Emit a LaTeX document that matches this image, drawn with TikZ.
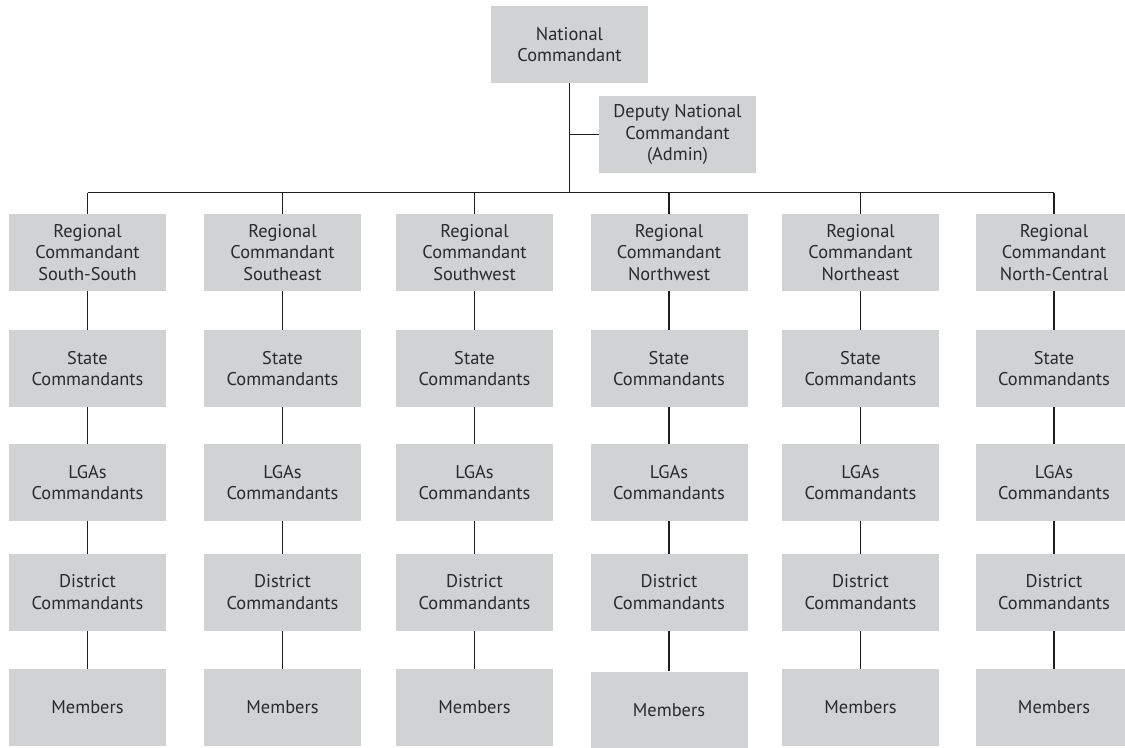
\documentclass[tikz,border=0pt]{standalone}
\usepackage{fontspec}
\setmainfont{PT Sans}
\definecolor{boxgray}{HTML}{D1D2D4}
\definecolor{txtgray}{HTML}{2A2A2A}
\definecolor{linegray}{HTML}{1E1E1E}
\begin{document}
\begin{tikzpicture}[x=0.75pt,y=-0.75pt,
  box/.style={fill=boxgray, draw=none, minimum width=117.75pt, minimum height=57.5pt,
    inner sep=0pt, align=center, text=txtgray, font=\fontsize{13.8}{16.4}\selectfont},
  conn/.style={draw=linegray, line width=0.9pt}]
\useasboundingbox (0,0) rectangle (1125,747);
\clip (0,0) rectangle (1125,747);

\node[box] (nat) at (569.5,44.5) {National\\Commandant};
\node[box] (dep) at (677.5,134.5) {Deputy National\\Commandant\\(Admin)};
\coordinate (bus) at (569.5,192.7);

\foreach \i/\x/\reg/\my in {1/87.5/South-South/707.5, 2/282.5/Southeast/707.5,
    3/474.5/Southwest/707.5, 4/669/Northwest/710, 5/860.5/Northeast/707.5,
    6/1054/North-Central/707.5} {
  \node[box] (r\i) at (\x,252.5) {Regional\\Commandant\\\reg};
  \node[box] (s\i) at (\x,368.5) {State\\Commandants};
  \node[box] (l\i) at (\x,482.5) {LGAs\\Commandants};
  \node[box] (d\i) at (\x,592.5) {District\\Commandants};
  \node[box] (m\i) at (\x,\my) {Members};
  \draw[conn] (r\i.north |- bus) -- (r\i.north);
  \draw[conn] (r\i.south) -- (s\i.north);
  \draw[conn] (s\i.south) -- (l\i.north);
  \draw[conn] (l\i.south) -- (d\i.north);
  \draw[conn] (d\i.south) -- (m\i.north);
}
\draw[conn] (nat.south) -- (nat.south |- bus);
\draw[conn] (dep.west) -- (dep.west -| nat.south);
\draw[conn] (r1.north |- bus) -- (r6.north |- bus);
\end{tikzpicture}
\end{document}
